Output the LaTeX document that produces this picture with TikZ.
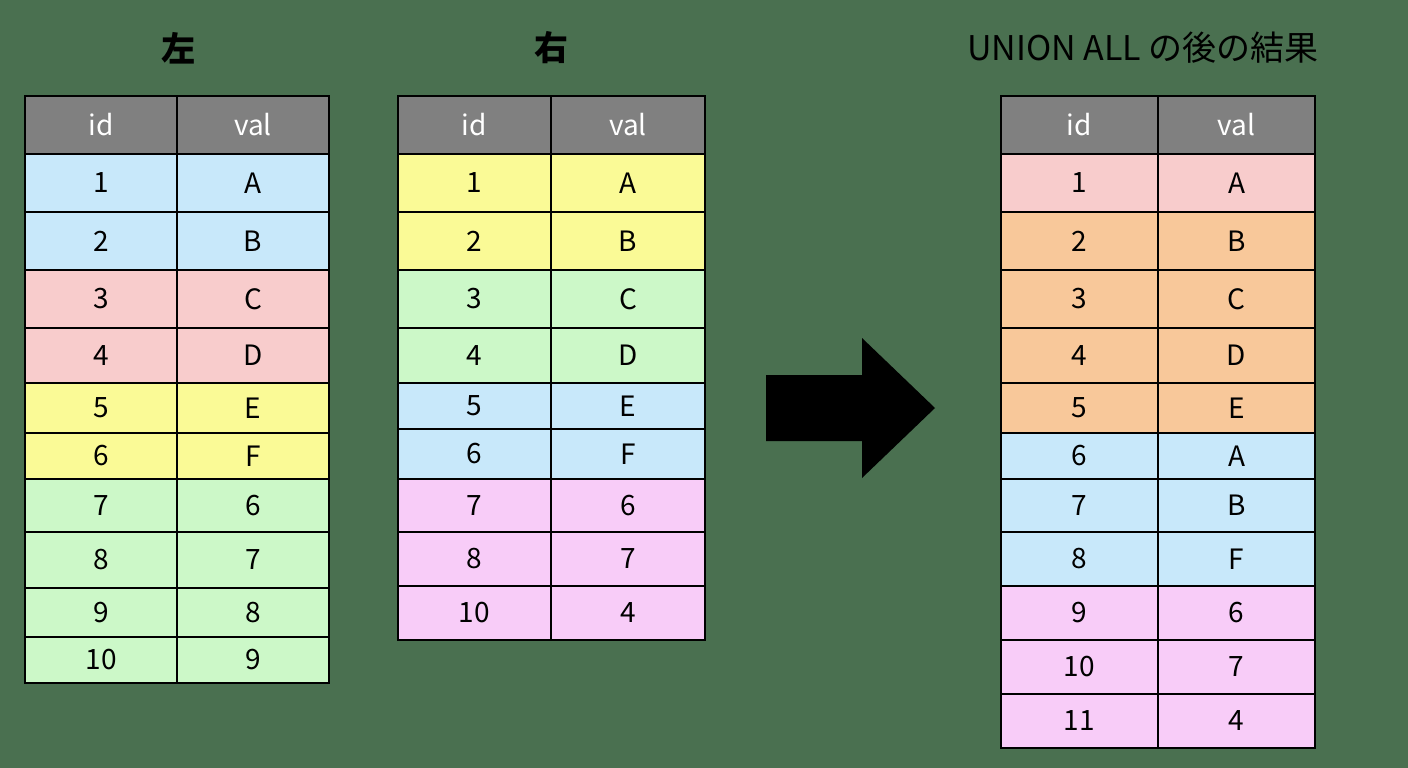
\documentclass[tikz,border=0pt]{standalone}
\usepackage{fontspec}
\setmainfont{Noto Sans CJK JP}
\begin{document}
\definecolor{bgc}{HTML}{4A7050}
\definecolor{hdc}{HTML}{808080}
\definecolor{cblue}{HTML}{C8E8FA}
\definecolor{cpink}{HTML}{F8CCCC}
\definecolor{cyel}{HTML}{FAFA96}
\definecolor{cgrn}{HTML}{CCF8C8}
\definecolor{cmag}{HTML}{F8CCF8}
\definecolor{corg}{HTML}{F8C89A}
\begin{tikzpicture}[x=1pt,y=-1pt,
  cell/.style={draw=black,line width=1.2pt},
  txt/.style={font=\fontsize{28}{30}\selectfont,text=black},
  htxt/.style={font=\fontsize{28}{30}\selectfont,text=white},
  ttl/.style={font=\fontsize{34}{36}\selectfont\bfseries,text=black}]
\fill[bgc] (0,0) rectangle (1408,768);
\useasboundingbox (0,0) rectangle (1408,768);
\newcommand{\mktable}[5]{%
  \fill[hdc] (#2,96) rectangle (#4,154);
  \draw[cell] (#2,96) rectangle (#3,154) (#3,96) rectangle (#4,154);
  \node[htxt] (#1h1) at ({(#2+#3)/2},125) {id};
  \node[htxt] (#1h2) at ({(#3+#4)/2},125) {val};
  \foreach \ya/\yb/\c/\a/\b [count=\i] in {#5} {
    \fill[fill=\c] (#2,\ya) rectangle (#4,\yb);
    \draw[cell] (#2,\ya) rectangle (#3,\yb) (#3,\ya) rectangle (#4,\yb);
    \node[txt] (#1a\i) at ({(#2+#3)/2},{(\ya+\yb)/2}) {\a};
    \node[txt] (#1b\i) at ({(#3+#4)/2},{(\ya+\yb)/2}) {\b};
  }}
\mktable{L}{25}{177}{329}{154/212/cblue/1/A,212/270/cblue/2/B,270/328/cpink/3/C,328/383/cpink/4/D,383/433/cyel/5/E,433/479/cyel/6/F,479/532/cgrn/7/6,532/588/cgrn/8/7,588/637/cgrn/9/8,637/683/cgrn/10/9}
\mktable{M}{398}{551}{705}{154/212/cyel/1/A,212/270/cyel/2/B,270/328/cgrn/3/C,328/383/cgrn/4/D,383/429/cblue/5/E,429/479/cblue/6/F,479/532/cmag/7/6,532/586/cmag/8/7,586/640/cmag/10/4}
\mktable{R}{1001}{1158}{1315}{154/212/cpink/1/A,212/270/corg/2/B,270/328/corg/3/C,328/383/corg/4/D,383/433/corg/5/E,433/479/cblue/6/A,479/532/cblue/7/B,532/586/cblue/8/F,586/640/cmag/9/6,640/694/cmag/10/7,694/748/cmag/11/4}
\node[ttl] (t1) at (178,48) {左};
\node[ttl] (t2) at (551,48) {右};
\node[font=\fontsize{34}{36}\selectfont,text=black] (t3) at (1143,48) {UNION ALL の後の結果};
\fill[black] (766,375) -- (862,375) -- (862,338) -- (935,408) -- (862,478) -- (862,441) -- (766,441) -- cycle;
\end{tikzpicture}
\end{document}
